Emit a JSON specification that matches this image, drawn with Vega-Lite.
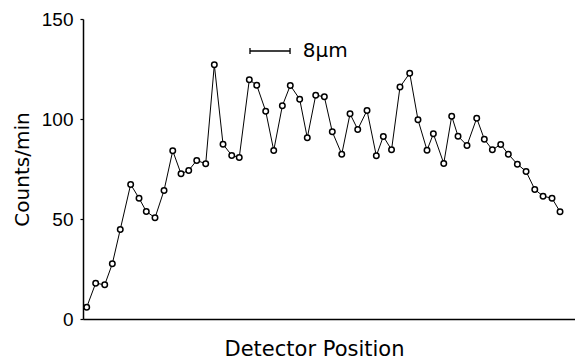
{
  "$schema": "https://vega.github.io/schema/vega-lite/v6.json",
  "width": 492,
  "height": 300,
  "autosize": {"type": "none"},
  "padding": {"left": 83, "top": 19, "right": 0, "bottom": 42},
  "background": "white",
  "config": {"view": {"stroke": null}},
  "datasets": {
    "counts": [
      {"position": 0.44, "counts": 5.9},
      {"position": 1.50, "counts": 17.9},
      {"position": 2.57, "counts": 17.1},
      {"position": 3.47, "counts": 27.6},
      {"position": 4.41, "counts": 44.8},
      {"position": 5.64, "counts": 67.3},
      {"position": 6.63, "counts": 60.4},
      {"position": 7.49, "counts": 53.8},
      {"position": 8.52, "counts": 50.6},
      {"position": 9.59, "counts": 64.3},
      {"position": 10.62, "counts": 84.1},
      {"position": 11.60, "counts": 72.6},
      {"position": 12.51, "counts": 74.3},
      {"position": 13.46, "counts": 79.3},
      {"position": 14.52, "counts": 77.6},
      {"position": 15.54, "counts": 127.1},
      {"position": 16.57, "counts": 87.4},
      {"position": 17.60, "counts": 81.8},
      {"position": 18.49, "counts": 80.8},
      {"position": 19.68, "counts": 119.6},
      {"position": 20.56, "counts": 116.9},
      {"position": 21.62, "counts": 103.9},
      {"position": 22.57, "counts": 84.3},
      {"position": 23.59, "counts": 106.6},
      {"position": 24.53, "counts": 116.8},
      {"position": 25.64, "counts": 109.9},
      {"position": 26.54, "counts": 90.6},
      {"position": 27.54, "counts": 111.9},
      {"position": 28.56, "counts": 111.1},
      {"position": 29.50, "counts": 93.6},
      {"position": 30.62, "counts": 82.4},
      {"position": 31.60, "counts": 102.6},
      {"position": 32.51, "counts": 94.8},
      {"position": 33.61, "counts": 104.3},
      {"position": 34.71, "counts": 81.6},
      {"position": 35.54, "counts": 91.3},
      {"position": 36.51, "counts": 84.6},
      {"position": 37.51, "counts": 116.0},
      {"position": 38.66, "counts": 122.9},
      {"position": 39.64, "counts": 99.6},
      {"position": 40.71, "counts": 84.4},
      {"position": 41.46, "counts": 92.6},
      {"position": 42.69, "counts": 77.8},
      {"position": 43.63, "counts": 101.4},
      {"position": 44.38, "counts": 91.4},
      {"position": 45.44, "counts": 86.8},
      {"position": 46.59, "counts": 100.4},
      {"position": 47.49, "counts": 89.9},
      {"position": 48.44, "counts": 84.6},
      {"position": 49.43, "counts": 87.3},
      {"position": 50.33, "counts": 82.4},
      {"position": 51.40, "counts": 77.4},
      {"position": 52.43, "counts": 73.8},
      {"position": 53.46, "counts": 64.8},
      {"position": 54.44, "counts": 61.4},
      {"position": 55.50, "counts": 60.4},
      {"position": 56.45, "counts": 53.6}
    ],
    "scalebar": [
      {"x": 19.76, "x2": 24.5, "y": 134, "ylo": 132.5, "yhi": 135.5, "label": "8µm", "tx": 26.0}
    ]
  },
  "layer": [
    {
      "mark": {"type": "rule", "color": "black", "strokeWidth": 1.5},
      "encoding": {"y": {"datum": 150, "type": "quantitative"}}
    },
    {
      "data": {"name": "counts"},
      "mark": {"type": "line", "color": "black", "strokeWidth": 1},
      "encoding": {
        "x": {
          "field": "position",
          "type": "quantitative",
          "scale": {"domain": [0, 58.22], "nice": false, "zero": false},
          "axis": {
            "title": "Detector Position",
            "ticks": false,
            "labels": false,
            "grid": false,
            "domainColor": "black",
            "domainWidth": 1.5,
            "titleFont": "DejaVu Sans",
            "titleFontSize": 21,
            "titleFontWeight": "normal",
            "titleColor": "black",
            "titleX": 231,
            "titleY": 36,
            "titleAlign": "center",
            "titleBaseline": "alphabetic"
          }
        },
        "y": {
          "field": "counts",
          "type": "quantitative",
          "scale": {"domain": [0, 150], "nice": false},
          "axis": {
            "title": "Counts/min",
            "values": [0, 50, 100, 150],
            "grid": false,
            "tickSize": 3,
            "tickColor": "black",
            "tickWidth": 1.2,
            "domainColor": "black",
            "domainWidth": 1.5,
            "labelFont": "Liberation Sans",
            "labelFontSize": 19,
            "labelColor": "black",
            "labelPadding": 7,
            "labelFlush": false,
            "titleFont": "DejaVu Sans",
            "titleFontSize": 20,
            "titleFontWeight": "normal",
            "titleColor": "black",
            "titleAngle": -90,
            "titleX": -61,
            "titleY": 150,
            "titleAlign": "center",
            "titleBaseline": "middle"
          }
        }
      }
    },
    {
      "data": {"name": "counts"},
      "mark": {"type": "point", "shape": "circle", "filled": false, "fill": "white", "fillOpacity": 1, "stroke": "black", "strokeWidth": 1.5, "size": 30, "opacity": 1},
      "encoding": {
        "x": {"field": "position", "type": "quantitative"},
        "y": {"field": "counts", "type": "quantitative"}
      }
    },
    {
      "data": {"name": "scalebar"},
      "mark": {"type": "rule", "color": "black", "strokeWidth": 1.3},
      "encoding": {
        "x": {"field": "x", "type": "quantitative"},
        "x2": {"field": "x2"},
        "y": {"field": "y", "type": "quantitative"}
      }
    },
    {
      "data": {"name": "scalebar"},
      "mark": {"type": "rule", "color": "black", "strokeWidth": 1.3},
      "encoding": {
        "x": {"field": "x", "type": "quantitative"},
        "y": {"field": "ylo", "type": "quantitative"},
        "y2": {"field": "yhi"}
      }
    },
    {
      "data": {"name": "scalebar"},
      "mark": {"type": "rule", "color": "black", "strokeWidth": 1.3},
      "encoding": {
        "x": {"field": "x2", "type": "quantitative"},
        "y": {"field": "ylo", "type": "quantitative"},
        "y2": {"field": "yhi"}
      }
    },
    {
      "data": {"name": "scalebar"},
      "mark": {"type": "text", "align": "left", "baseline": "middle", "font": "DejaVu Sans", "fontSize": 20, "color": "black"},
      "encoding": {
        "x": {"field": "tx", "type": "quantitative"},
        "y": {"field": "y", "type": "quantitative"},
        "text": {"field": "label"}
      }
    }
  ]
}
